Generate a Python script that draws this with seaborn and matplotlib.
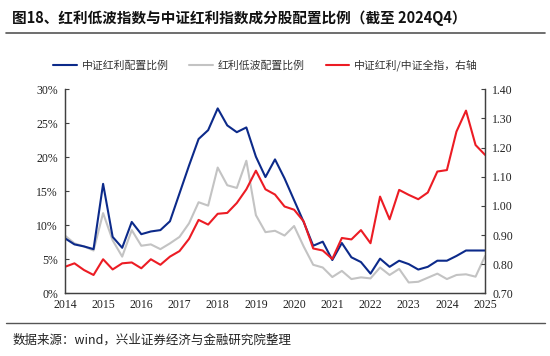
import numpy as np
import pandas as pd
import matplotlib
matplotlib.use("Agg")
import matplotlib.pyplot as plt
import seaborn as sns
from matplotlib.lines import Line2D

# 数据：2013Q4 - 2024Q4 季度
quarters = ['2013Q4'] + [f'{y}Q{q}' for y in range(2014, 2025) for q in range(1, 5)]

csi_div_weight = [8.1, 7.2, 6.9, 6.5, 16.1, 8.3, 6.7, 10.5, 8.7, 9.1,
                  9.3, 10.6, 14.7, 18.8, 22.7, 24.0, 27.2, 24.7, 23.7, 24.4,
                  20.1, 17.1, 19.7, 16.9, 13.7, 10.5, 7.0, 7.6, 4.9, 7.4,
                  5.3, 4.6, 2.9, 5.1, 3.9, 4.8, 4.3, 3.5, 3.9, 4.8,
                  4.8, 5.5, 6.3, 6.3, 6.3]

lowvol_weight = [8.5, 7.35, 6.9, 6.3, 11.8, 7.8, 5.4, 9.3, 7.0, 7.2,
                 6.5, 7.35, 8.3, 10.3, 13.4, 12.9, 18.5, 15.9, 15.5, 19.5,
                 11.5, 9.0, 9.2, 8.5, 9.9, 6.9, 4.2, 3.8, 2.4, 3.3,
                 2.1, 2.35, 2.2, 3.8, 2.7, 3.6, 1.6, 1.7, 2.3, 2.9,
                 2.1, 2.7, 2.8, 2.45, 5.5]

div_to_all_ratio = [0.791, 0.803, 0.780, 0.763, 0.817, 0.782, 0.803, 0.806, 0.786, 0.817,
                    0.798, 0.826, 0.845, 0.887, 0.952, 0.936, 0.973, 0.976, 1.010, 1.057,
                    1.121, 1.057, 1.039, 0.998, 0.987, 0.947, 0.854, 0.847, 0.818, 0.890,
                    0.885, 0.917, 0.872, 1.032, 0.954, 1.055, 1.038, 1.023, 1.046, 1.118,
                    1.123, 1.255, 1.327, 1.209, 1.175]

years = list(range(2014, 2026))
left_ticks = [0, 5, 10, 15, 20, 25, 30]
right_ticks = [0.70, 0.80, 0.90, 1.00, 1.10, 1.20, 1.30, 1.40]

labels = ['中证红利配置比例', '红利低波配置比例', '中证红利/中证全指，右轴']
colors = ['#0c2a8a', '#c3c3c3', '#ec1c24']

sns.set_style("white")
cjk = ['Noto Sans CJK SC', 'DejaVu Sans']
plt.rcParams['font.family'] = cjk
serif = ['Liberation Serif', 'DejaVu Serif']

df = pd.DataFrame({
    'quarter': quarters,
    'blue': csi_div_weight,
    'gray': lowvol_weight,
    'red': div_to_all_ratio,
})
# 季末对应的年份位置
df['x'] = df['quarter'].str[:4].astype(int) + df['quarter'].str[-1].astype(int) * 0.25

fig = plt.figure(figsize=(5.5, 3.56), dpi=100)
ax = fig.add_axes([0.118, 0.176, 0.764, 0.573])
ax2 = ax.twinx()

sns.lineplot(data=df, x='x', y='blue', ax=ax, color=colors[0], linewidth=1.5, label=labels[0], legend=False)
sns.lineplot(data=df, x='x', y='gray', ax=ax, color=colors[1], linewidth=1.5, label=labels[1], legend=False)
sns.lineplot(data=df, x='x', y='red', ax=ax2, color=colors[2], linewidth=1.5, label=labels[2], legend=False)
ax.lines[0].set_zorder(3)

ax.set_xlim(2014, 2025)
ax.set_ylim(0, 30)
ax2.set_ylim(0.70, 1.40)
ax.set_xticks(years)
ax.set_xticklabels([str(y) for y in years], fontfamily=serif, fontsize=8.5)
ax.set_yticks(left_ticks)
ax.set_yticklabels([f'{v}%' for v in left_ticks], fontfamily=serif, fontsize=8.5)
ax2.set_yticks(right_ticks)
ax2.set_yticklabels([f'{v:.2f}' for v in right_ticks], fontfamily=serif, fontsize=8.5)
ax.set_xlabel('')
ax.set_ylabel('')
ax2.set_ylabel('')

spine_c = '#404040'
for a in (ax, ax2):
    a.spines['top'].set_visible(False)
    for s in ('left', 'bottom', 'right'):
        a.spines[s].set_color(spine_c)
        a.spines[s].set_linewidth(0.9)
    a.tick_params(direction='in', length=3, width=0.8, color=spine_c, labelcolor='#222222', pad=4)
ax.tick_params(axis='y', pad=5)
ax2.tick_params(axis='y', pad=5)
ax.grid(False)
ax2.grid(False)

handles = [Line2D([], [], color=c, linewidth=1.5) for c in colors]
fig.legend(handles, labels, loc='center', bbox_to_anchor=(0.483, 0.817), ncol=3,
           frameon=False, fontsize=7.8, handlelength=2.2, handletextpad=0.45,
           columnspacing=1.9, labelcolor='#333333')

fig.text(0.022, 0.949, '图18、红利低波指数与中证红利指数成分股配置比例（截至 2024Q4）',
         fontsize=10.5, fontweight='bold', va='center', ha='left', color='#111111')
fig.add_artist(Line2D([0.01, 0.99], [0.906, 0.906], color='#555555', linewidth=1.2))
fig.add_artist(Line2D([0.01, 0.99], [0.093, 0.093], color='#555555', linewidth=1.0))
fig.text(0.022, 0.045, '数据来源：wind，兴业证券经济与金融研究院整理',
         fontsize=9, va='center', ha='left', color='#222222')

fig.savefig('out.png', dpi=100)
